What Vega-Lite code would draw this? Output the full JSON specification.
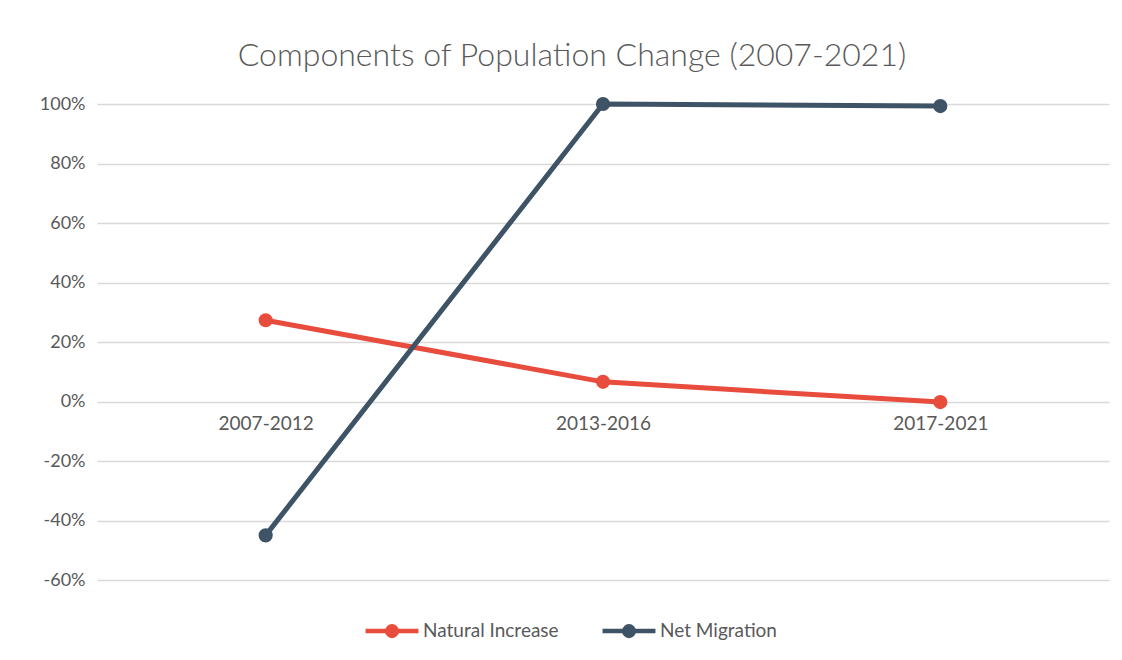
{
  "$schema": "https://vega.github.io/schema/vega-lite/v6.json",
  "width": 1012,
  "height": 476,
  "autosize": {"type": "none"},
  "padding": {"left": 97, "top": 104, "right": 13, "bottom": 80},
  "background": "white",
  "title": {
    "text": "Components of Population Change (2007-2021)",
    "font": "Lato",
    "fontSize": 32,
    "fontWeight": 300,
    "color": "#595959",
    "anchor": "middle",
    "dx": -31,
    "offset": 21
  },
  "data": {
    "values": [
      {"period": "2007-2012", "series": "Natural Increase", "value": 0.273},
      {"period": "2013-2016", "series": "Natural Increase", "value": 0.066},
      {"period": "2017-2021", "series": "Natural Increase", "value": -0.002},
      {"period": "2007-2012", "series": "Net Migration", "value": -0.45},
      {"period": "2013-2016", "series": "Net Migration", "value": 1.0},
      {"period": "2017-2021", "series": "Net Migration", "value": 0.993}
    ]
  },
  "mark": {"type": "line", "strokeWidth": 5, "point": {"size": 200, "filled": true, "opacity": 1}},
  "encoding": {
    "x": {
      "field": "period",
      "type": "nominal",
      "scale": {"type": "point", "padding": 0.5},
      "axis": {
        "title": null,
        "labelAngle": 0,
        "domain": false,
        "ticks": false,
        "grid": false,
        "offset": -178.5,
        "labelPadding": 13,
        "labelFont": "Lato",
        "labelFontSize": 19,
        "labelColor": "#595959"
      }
    },
    "y": {
      "field": "value",
      "type": "quantitative",
      "scale": {"domain": [-0.6, 1.0], "nice": false, "zero": false},
      "axis": {
        "title": null,
        "format": ".0%",
        "labelExpr": "replace(datum.label, '\u2212', '-')",
        "values": [-0.6, -0.4, -0.2, 0, 0.2, 0.4, 0.6, 0.8, 1.0],
        "domain": false,
        "ticks": false,
        "grid": true,
        "gridColor": "#d9d9d9",
        "gridWidth": 1.5,
        "labelPadding": 12,
        "labelFont": "Lato",
        "labelFontSize": 18,
        "labelColor": "#595959"
      }
    },
    "color": {
      "field": "series",
      "type": "nominal",
      "scale": {"domain": ["Natural Increase", "Net Migration"], "range": ["#E84C3D", "#3E5366"]},
      "legend": {
        "title": null,
        "orient": "none",
        "legendX": 266,
        "legendY": 498,
        "direction": "horizontal",
        "symbolType": "M-1,0L1,0M-0.18,0A0.18,0.18 0 1 1 0.18,0A0.18,0.18 0 1 1 -0.18,0Z",
        "symbolSize": 2800,
        "symbolStrokeWidth": 4.5,
        "symbolOffset": 0,
        "labelFont": "Lato",
        "labelFontSize": 19,
        "labelColor": "#595959",
        "labelOffset": 2,
        "columnPadding": 34
      }
    }
  },
  "config": {
    "view": {"stroke": null}
  }
}
